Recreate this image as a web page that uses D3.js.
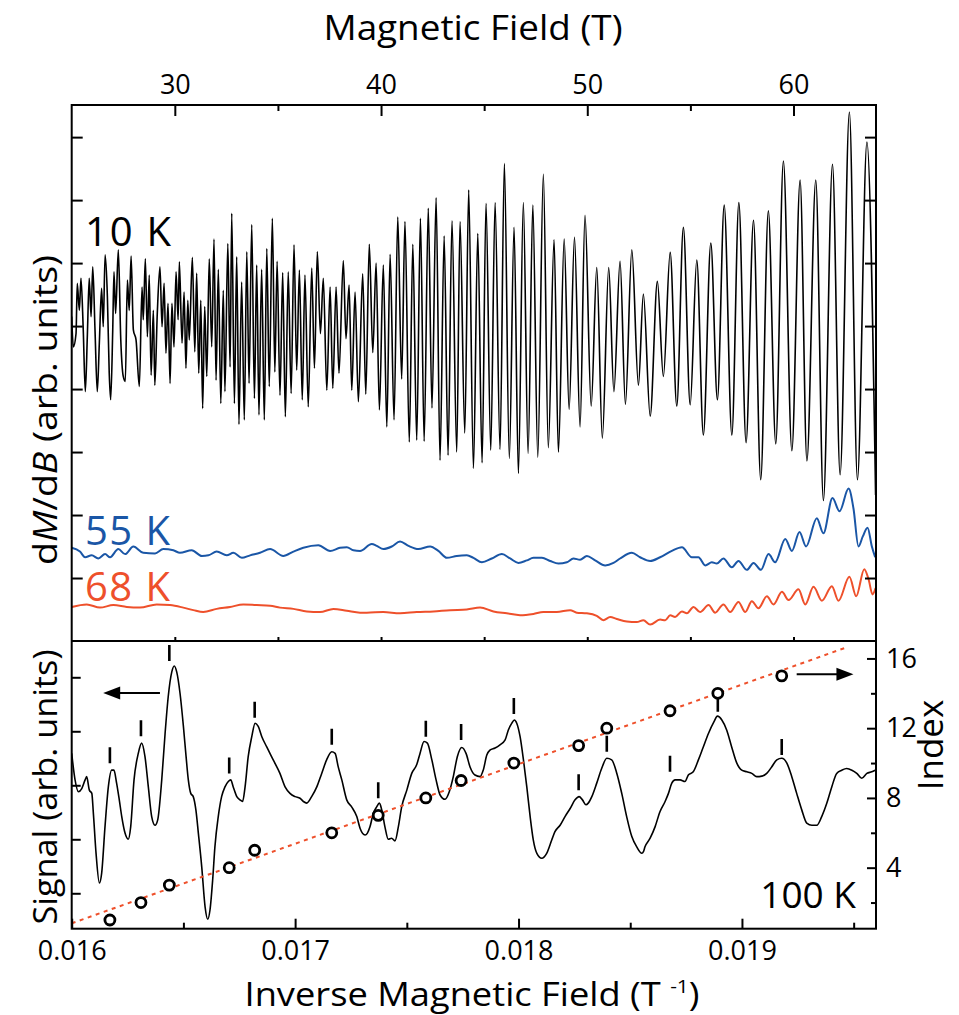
<!DOCTYPE html>
<html><head><meta charset="utf-8">
<script src="https://cdn.jsdelivr.net/npm/d3@7"></script>
<style>
html,body{margin:0;padding:0;background:#fff;}
svg{display:block;}
text{font-family:"Open Sans","Noto Sans",sans-serif;fill:#000;}
</style></head><body>
<svg id="chart" width="959" height="1015"></svg>
<script>
// ---- axis ticks ----
const fieldMajor = [30, 40, 50, 60];
const fieldMinor = [35, 45, 55];
const invMajor = [0.016, 0.017, 0.018, 0.019];
const invMinor = [0.0165, 0.0175, 0.0185, 0.0195];
const upperTicks = [1, 2, 3, 4, 5, 6, 7, 8];
const signalTicks = [0, 1, 2, 3, 4];
const indexMajor = [4, 8, 12, 16];
const indexMinor = [2, 6, 10, 14];

// ---- dM/dB vs field (T, arb. units) ----
const trace10K = [[25.00,5.15],[25.08,4.67],[25.21,4.88],[25.27,5.68],[25.37,5.25],[25.45,5.76],[25.56,4.94],[25.66,3.96],[25.76,4.86],[25.85,5.76],[25.94,5.15],[26.02,5.94],[26.13,4.94],[26.24,3.96],[26.34,4.73],[26.45,5.60],[26.53,4.99],[26.62,6.13],[26.73,5.47],[26.82,4.25],[26.89,3.83],[26.99,4.94],[27.05,5.86],[27.13,5.20],[27.26,6.21],[27.38,4.78],[27.50,4.20],[27.60,4.12],[27.70,5.73],[27.79,5.25],[27.88,6.11],[27.99,4.94],[28.12,4.78],[28.28,4.04],[28.41,5.62],[28.47,5.10],[28.57,6.07],[28.67,4.83],[28.76,5.81],[28.85,4.22],[28.96,5.25],[29.03,4.06],[29.15,5.20],[29.28,5.94],[29.38,4.99],[29.48,5.68],[29.57,4.57],[29.67,5.36],[29.77,4.09],[29.86,5.36],[29.96,4.67],[30.06,5.86],[30.16,5.10],[30.22,6.02],[30.35,4.73],[30.45,5.54],[30.54,4.33],[30.63,5.41],[30.70,4.78],[30.85,6.09],[30.97,4.59],[31.06,5.84],[31.16,4.25],[31.26,5.41],[31.35,3.69],[31.45,5.31],[31.55,4.20],[31.67,6.07],[31.79,4.67],[31.90,6.38],[32.00,4.14],
[32.11,5.90],[32.23,3.77],[32.35,5.57],[32.43,3.96],[32.57,6.31],[32.68,4.35],[32.76,6.79],[32.89,3.77],[33.00,6.10],[33.11,3.44],[33.24,5.70],[33.37,3.51],[33.49,6.18],[33.60,4.09],[33.73,6.61],[33.86,3.85],[33.97,5.97],[34.08,3.59],[34.21,5.90],[34.34,3.51],[34.46,6.23],[34.58,4.04],[34.73,6.71],[34.85,4.27],[34.96,6.03],[35.10,3.90],[35.23,5.85],[35.36,3.56],[35.50,5.86],[35.64,3.93],[35.78,6.29],[35.91,4.30],[36.04,5.89],[36.18,3.83],[36.31,5.81],[36.47,3.72],[36.64,5.92],[36.77,4.33],[36.91,6.18],[37.06,4.88],[37.20,5.76],[37.37,3.98],[37.53,5.62],[37.66,4.01],[37.82,5.62],[37.96,4.25],[38.17,6.04],[38.30,4.80],[38.45,5.65],[38.58,3.98],[38.74,5.54],[38.90,3.80],
[39.11,5.83],[39.26,3.92],[39.43,6.30],[39.60,4.58],[39.76,6.00],[39.92,3.67],[40.11,5.97],[40.28,3.40],[40.44,6.14],[40.63,3.51],[40.81,6.73],[41.00,4.16],[41.16,6.66],[41.37,3.16],[41.54,6.30],[41.73,3.19],[41.91,6.71],[42.09,3.17],[42.29,6.87],[42.47,3.70],[42.67,7.04],[42.86,2.87],[43.06,6.43],[43.25,2.95],[43.44,6.67],[43.67,3.00],[43.83,6.66],[44.06,3.30],[44.25,7.16],[44.48,2.74],[44.69,6.47],[44.90,2.83],[45.09,6.95],[45.32,3.03],[45.53,6.96],[45.77,3.04],[45.98,7.58],
[46.22,2.90],[46.45,6.57],[46.66,2.66],[46.90,6.96],[47.13,2.98],[47.36,6.92],[47.60,2.92],[47.87,7.41],[48.11,3.07],[48.39,6.37],[48.60,3.00],[48.88,6.38],[49.12,3.68],[49.38,6.41],[49.65,3.40],[49.89,6.76],[50.19,3.73],[50.46,5.93],[50.73,3.22],[51.04,5.93],[51.29,3.96],[51.59,6.03],[51.85,3.76],[52.16,6.21],[52.48,4.06],[52.72,5.51],[53.05,3.57],[53.40,5.71],[53.69,4.20],[54.02,6.17],[54.34,3.73],[54.66,6.57],[54.99,3.75],[55.31,6.05],[55.63,3.27],[55.99,6.32],[56.31,3.83],[56.64,6.92],[57.01,3.27],[57.35,6.96],[57.70,3.15],[58.06,6.68],[58.41,2.56],[58.78,6.83],[59.14,3.13],[59.51,7.62],[59.92,3.02],[60.32,7.32],[60.65,2.86],[61.08,7.32],[61.45,2.23],[61.89,7.57],[62.26,2.64],[62.71,8.40],[63.10,2.56],[63.56,7.92],[63.98,2.32]];

const trace55K = [[25.00,1.48],[25.40,1.42],[25.65,1.33],[25.97,1.36],[26.29,1.31],[26.62,1.38],[26.86,1.33],[27.26,1.46],[27.59,1.38],[27.99,1.50],[28.47,1.40],[29.04,1.39],[29.44,1.46],[29.93,1.44],[30.25,1.40],[30.82,1.44],[31.31,1.35],[31.63,1.36],[32.03,1.42],[32.52,1.36],[32.84,1.40],[33.25,1.32],[33.65,1.36],[34.13,1.40],[34.62,1.46],[35.26,1.35],[35.75,1.42],[36.23,1.48],[36.96,1.52],[37.53,1.43],[38.01,1.48],[38.34,1.49],[38.66,1.44],[38.98,1.43],[39.55,1.54],[39.79,1.51],[40.11,1.46],[40.52,1.50],[40.92,1.58],[41.33,1.51],[41.81,1.46],[42.38,1.50],[42.78,1.43],[43.19,1.32],[43.67,1.35],[44.16,1.36],[44.48,1.32],[44.89,1.25],[45.37,1.31],[45.86,1.38],[46.26,1.31],[46.66,1.24],[47.07,1.28],[47.39,1.32],[47.80,1.32],[48.20,1.27],[48.60,1.23],[49.01,1.25],[49.33,1.31],[49.65,1.29],[49.98,1.35],[50.38,1.28],[50.87,1.20],[51.27,1.24],[51.59,1.31],[52.16,1.40],[52.56,1.33],[53.05,1.27],[53.53,1.33],[54.10,1.43],[54.59,1.49],[55.07,1.33],[55.39,1.33],[55.72,1.20],[56.04,1.25],[56.28,1.23],[56.60,1.31],[57.01,1.17],[57.33,1.27],[57.74,1.13],[58.06,1.24],[58.42,1.13],[58.79,1.38],[59.11,1.25],[59.60,1.62],[59.92,1.43],[60.29,1.73],[60.61,1.50],[61.13,1.95],[61.45,1.71],[61.89,2.27],[62.23,2.06],[62.67,2.42],[62.91,2.10],[63.15,1.50],[63.36,1.66],[63.59,1.80],[63.80,1.50],[63.96,1.33]];

const trace68K = [[25.00,0.54],[25.73,0.58],[26.37,0.53],[27.02,0.57],[27.67,0.54],[28.31,0.53],[29.12,0.58],[29.77,0.57],[30.41,0.53],[30.90,0.49],[31.38,0.46],[32.03,0.51],[32.68,0.54],[33.32,0.58],[33.97,0.57],[34.62,0.56],[35.10,0.53],[35.75,0.51],[36.40,0.47],[37.04,0.46],[37.69,0.51],[38.34,0.48],[38.98,0.45],[39.31,0.45],[40.11,0.46],[40.92,0.44],[41.73,0.46],[42.54,0.47],[43.35,0.49],[44.16,0.50],[44.80,0.53],[45.45,0.47],[46.10,0.44],[46.74,0.41],[47.39,0.43],[47.87,0.46],[48.52,0.46],[49.17,0.49],[49.49,0.45],[49.98,0.44],[50.46,0.40],[50.78,0.33],[51.11,0.38],[51.43,0.35],[51.92,0.31],[52.40,0.30],[52.72,0.33],[53.05,0.26],[53.53,0.34],[53.78,0.33],[54.02,0.41],[54.26,0.38],[54.59,0.47],[54.83,0.44],[55.15,0.54],[55.47,0.46],[55.88,0.57],[56.20,0.45],[56.60,0.58],[56.93,0.46],[57.33,0.62],[57.66,0.46],[57.98,0.63],[58.30,0.52],[58.71,0.71],[59.03,0.58],[59.44,0.78],[59.76,0.65],[60.24,0.82],[60.57,0.58],[60.97,0.86],[61.38,0.64],[61.86,0.87],[62.18,0.64],[62.71,1.02],[63.04,0.71],[63.43,1.14],[63.64,0.98],[63.83,0.74],[63.98,0.84]];

// ---- 100 K signal vs inverse field (1/T, arb. units) ----
const signal100K = [[0.016000,2.59],[0.016015,2.10],[0.016030,1.88],[0.016045,1.94],[0.016060,2.10],[0.016067,2.16],[0.016079,1.91],[0.016090,1.85],[0.016097,1.48],[0.016109,0.74],[0.016124,0.19],[0.016134,0.37],[0.016149,1.23],[0.016164,1.97],[0.016179,2.28],[0.016189,2.28],[0.016201,2.04],[0.016213,1.73],[0.016224,1.42],[0.016239,1.11],[0.016253,1.00],[0.016264,1.23],[0.016279,2.10],[0.016298,2.59],[0.016313,2.78],[0.016328,2.53],[0.016343,1.97],[0.016358,1.42],[0.016373,1.26],[0.016385,1.36],[0.016403,2.10],[0.016418,2.96],[0.016432,3.64],[0.016448,4.10],[0.016459,4.21],[0.016470,4.10],[0.016485,3.70],[0.016500,3.09],[0.016512,2.53],[0.016522,2.10],[0.016533,1.85],[0.016544,1.79],[0.016556,1.54],[0.016567,1.11],[0.016582,0.49],[0.016597,-0.25],[0.016609,-0.48],[0.016619,-0.31],[0.016631,0.25],[0.016641,0.86],[0.016656,1.42],[0.016671,1.79],[0.016686,1.97],[0.016701,2.07],[0.016712,2.10],[0.016723,1.97],[0.016739,1.79],[0.016753,1.73],[0.016765,1.70],[0.016776,1.97],[0.016790,2.53],[0.016806,2.90],[0.016821,3.15],[0.016835,3.09],[0.016851,2.90],[0.016873,2.71],[0.016902,2.47],[0.016932,2.22],[0.016955,1.97],[0.016977,1.85],[0.017000,1.79],[0.017022,1.76],[0.017037,1.70],[0.017052,1.67],[0.017074,1.79],[0.017097,1.97],[0.017119,2.22],[0.017141,2.47],[0.017164,2.62],[0.017179,2.59],[0.017193,2.34],[0.017209,2.10],[0.017231,1.73],[0.017253,1.60],[0.017276,1.42],[0.017291,1.20],[0.017313,1.08],[0.017323,1.11],[0.017335,1.23],[0.017350,1.48],[0.017365,1.60],[0.017377,1.67],[0.017388,1.54],[0.017402,1.23],[0.017417,1.00],[0.017432,1.02],[0.017447,0.97],[0.017462,1.23],[0.017477,1.60],[0.017500,1.91],[0.017522,2.22],[0.017544,2.38],[0.017559,2.59],[0.017577,2.81],[0.017592,2.78],[0.017612,2.47],[0.017631,2.10],[0.017649,1.82],[0.017671,1.74],[0.017690,1.88],[0.017708,2.16],[0.017726,2.53],[0.017746,2.70],[0.017765,2.59],[0.017783,2.34],[0.017805,2.19],[0.017828,2.16],[0.017842,2.28],[0.017858,2.56],[0.017872,2.65],[0.017895,2.69],[0.017917,2.75],[0.017940,2.84],[0.017954,3.02],[0.017970,3.15],[0.017981,3.21],[0.017992,3.15],[0.018007,2.90],[0.018022,2.47],[0.018037,1.97],[0.018052,1.42],[0.018066,0.99],[0.018082,0.74],[0.018104,0.65],[0.018126,0.74],[0.018149,0.99],[0.018163,1.14],[0.018186,1.26],[0.018208,1.42],[0.018231,1.57],[0.018253,1.73],[0.018271,1.79],[0.018286,1.73],[0.018302,1.64],[0.018312,1.67],[0.018328,1.79],[0.018350,2.04],[0.018372,2.31],[0.018395,2.50],[0.018417,2.47],[0.018440,2.22],[0.018462,1.85],[0.018484,1.42],[0.018507,1.05],[0.018529,0.86],[0.018552,0.74],[0.018559,0.77],[0.018566,0.86],[0.018589,1.02],[0.018611,1.23],[0.018633,1.51],[0.018656,1.70],[0.018671,1.85],[0.018686,2.04],[0.018701,2.10],[0.018723,2.10],[0.018745,2.07],[0.018760,2.19],[0.018782,2.25],[0.018805,2.47],[0.018827,2.71],[0.018850,2.96],[0.018875,3.18],[0.018890,3.28],[0.018910,3.21],[0.018932,3.02],[0.018954,2.71],[0.018977,2.41],[0.018999,2.28],[0.019022,2.25],[0.019044,2.22],[0.019066,2.16],[0.019089,2.17],[0.019111,2.22],[0.019133,2.34],[0.019156,2.47],[0.019178,2.50],[0.019201,2.41],[0.019223,2.16],[0.019245,1.85],[0.019268,1.54],[0.019290,1.30],[0.019313,1.26],[0.019335,1.26],[0.019357,1.42],[0.019380,1.67],[0.019402,1.97],[0.019424,2.22],[0.019447,2.28],[0.019469,2.31],[0.019492,2.28],[0.019514,2.22],[0.019536,2.13],[0.019559,2.22],[0.019581,2.25],[0.019596,2.28]];

// Landau level index of each marked peak (right axis)
const peakInvField = [0.016171,0.016310,0.016437,0.016705,0.016819,0.017164,0.017372,0.017585,0.017743,0.017979,0.018269,0.018395,0.018678,0.018892,0.019178];
const peakIndex = [1,2,3,4,5,6,7,8,9,10,11,12,13,14,15];
// signal level just above each marked peak
const peakMarkLevel = [2.41,2.91,4.30,2.22,3.25,2.75,1.76,2.90,2.84,3.32,1.91,2.62,2.25,3.36,2.56];
// linear fit of index vs inverse field
const indexFit = [[0.016, 0.81], [0.019469, 16.64]];

const svg = d3.select('#chart');
const L = 71.7, R = 876, T = 105, M = 641, B = 928.7;
const black = '#000';
const blue = '#1a56a6';
const red = '#ee502b';
const FONT = '"Open Sans","Noto Sans",sans-serif';

const xB = d3.scaleLinear().domain([25, 64]).range([L, R]);
const yUp = d3.scaleLinear().domain([0, 8.51]).range([M, T]);
const xInv = d3.scaleLinear().domain([0.016, 0.0196]).range([L, R]);
const ySig = d3.scaleLinear().domain([-0.656, 4.672]).range([B, M]);
const yIdx = d3.scaleLinear().domain([0.5, 17]).range([B, M]);

const defs = svg.append('defs');
defs.append('clipPath').attr('id', 'clipUp').append('rect')
  .attr('x', L).attr('y', T).attr('width', R - L).attr('height', M - T);
defs.append('clipPath').attr('id', 'clipLo').append('rect')
  .attr('x', L).attr('y', M).attr('width', R - L).attr('height', B - M);

// ---------- upper panel traces ----------
const lineUp = d3.line().x(d => xB(d[0])).y(d => yUp(d[1])).curve(d3.curveMonotoneX);
const gUp = svg.append('g').attr('clip-path', 'url(#clipUp)');
gUp.append('path').datum(trace68K).attr('d', lineUp)
  .attr('fill', 'none').attr('stroke', red).attr('stroke-width', 2);
gUp.append('path').datum(trace55K).attr('d', lineUp)
  .attr('fill', 'none').attr('stroke', blue).attr('stroke-width', 2);
gUp.append('path').datum(trace10K).attr('d', lineUp)
  .attr('fill', 'none').attr('stroke', black).attr('stroke-width', 1.6);

// ---------- lower panel ----------
const gLo = svg.append('g').attr('clip-path', 'url(#clipLo)');
const lineSig = d3.line().x(d => xInv(d[0])).y(d => ySig(d[1])).curve(d3.curveMonotoneX);
gLo.append('path').datum(signal100K).attr('d', lineSig)
  .attr('fill', 'none').attr('stroke', black).attr('stroke-width', 1.6);

const lineFit = d3.line().x(d => xInv(d[0])).y(d => yIdx(d[1]));
gLo.append('path').datum(indexFit).attr('d', lineFit)
  .attr('fill', 'none').attr('stroke', red).attr('stroke-width', 2)
  .attr('stroke-dasharray', '4,4.5');

// peak markers
gLo.selectAll('line.mark').data(peakInvField).join('line').attr('class', 'mark')
  .attr('x1', d => xInv(d)).attr('x2', d => xInv(d))
  .attr('y1', (d, i) => ySig(peakMarkLevel[i]))
  .attr('y2', (d, i) => ySig(peakMarkLevel[i]) - 16)
  .attr('stroke', black).attr('stroke-width', 2.6);

// index circles
gLo.selectAll('circle.idx').data(peakInvField).join('circle').attr('class', 'idx')
  .attr('cx', d => xInv(d)).attr('cy', (d, i) => yIdx(peakIndex[i]))
  .attr('r', 5).attr('fill', '#fff').attr('stroke', black).attr('stroke-width', 2.8);

// arrows pointing to the relevant axis
function arrow(x0, x1, y, dir) {
  const xa = dir < 0 ? x0 : x1, xb = dir < 0 ? x1 : x0;
  const head = 17, half = 6.5;
  svg.append('line').attr('x1', xa - dir * head * 0.8).attr('x2', xb).attr('y1', y).attr('y2', y)
    .attr('stroke', black).attr('stroke-width', 2);
  svg.append('path')
    .attr('d', `M${xa},${y} L${xa - dir * head},${y - half} L${xa - dir * head},${y + half} Z`)
    .attr('fill', black);
}
arrow(xInv(0.016141), xInv(0.016395), ySig(3.71), -1);
arrow(xInv(0.019245), xInv(0.019499), yIdx(15.09), 1);

// ---------- axes ----------
function styleAxis(g, fs) {
  g.select('.domain').remove();
  g.selectAll('.tick line').attr('stroke', black).attr('stroke-width', 2);
  g.attr('font-family', FONT).attr('font-size', fs);
  g.selectAll('.tick text').attr('fill', black);
}
// field axis (top)
svg.append('g').attr('transform', `translate(0,${T})`)
  .call(d3.axisTop(xB).tickValues(fieldMajor).tickSize(-11).tickPadding(11).tickFormat(d3.format('d')))
  .call(g => styleAxis(g, 27));
svg.append('g').attr('transform', `translate(0,${T})`)
  .call(d3.axisTop(xB).tickValues(fieldMinor).tickSize(-6).tickFormat(''))
  .call(g => styleAxis(g, 27));
// field ticks along the panel divider
svg.append('g').attr('transform', `translate(0,${M})`)
  .call(d3.axisBottom(xB).tickValues(fieldMajor.concat(fieldMinor)).tickSize(-4).tickFormat(''))
  .call(g => styleAxis(g, 27));
// upper panel vertical ticks
svg.append('g').attr('transform', `translate(${L},0)`)
  .call(d3.axisLeft(yUp).tickValues(upperTicks).tickSize(-11).tickFormat(''))
  .call(g => styleAxis(g, 27));
svg.append('g').attr('transform', `translate(${R},0)`)
  .call(d3.axisRight(yUp).tickValues(upperTicks).tickSize(-11).tickFormat(''))
  .call(g => styleAxis(g, 27));
// lower panel signal axis (left)
svg.append('g').attr('transform', `translate(${L},0)`)
  .call(d3.axisLeft(ySig).tickValues(signalTicks).tickSize(-9).tickFormat(''))
  .call(g => styleAxis(g, 27));
// index axis (right)
svg.append('g').attr('transform', `translate(${R},0)`)
  .call(d3.axisRight(yIdx).tickValues(indexMajor).tickSize(-9).tickPadding(10).tickFormat(d3.format('d')))
  .call(g => styleAxis(g, 27));
svg.append('g').attr('transform', `translate(${R},0)`)
  .call(d3.axisRight(yIdx).tickValues(indexMinor).tickSize(-5).tickFormat(''))
  .call(g => styleAxis(g, 27));
// inverse field axis (bottom)
svg.append('g').attr('transform', `translate(0,${B})`)
  .call(d3.axisBottom(xInv).tickValues(invMajor).tickSize(-10).tickPadding(12).tickFormat(d3.format('.3f')))
  .call(g => styleAxis(g, 27));
svg.append('g').attr('transform', `translate(0,${B})`)
  .call(d3.axisBottom(xInv).tickValues(invMinor).tickSize(-6).tickFormat(''))
  .call(g => styleAxis(g, 27));

// frame
svg.append('rect').attr('x', L).attr('y', T).attr('width', R - L).attr('height', B - T)
  .attr('fill', 'none').attr('stroke', black).attr('stroke-width', 2);
svg.append('line').attr('x1', L).attr('x2', R).attr('y1', M).attr('y2', M)
  .attr('stroke', black).attr('stroke-width', 2);

// ---------- titles & labels ----------
svg.append('text').attr('x', 473).attr('y', 40).attr('text-anchor', 'middle')
  .attr('font-size', 34).attr('textLength', 299).attr('lengthAdjust', 'spacingAndGlyphs')
  .text('Magnetic Field (T)');

const xt = svg.append('text').attr('x', 472).attr('y', 1006).attr('text-anchor', 'middle')
  .attr('font-size', 33).attr('textLength', 455).attr('lengthAdjust', 'spacingAndGlyphs');
xt.append('tspan').text('Inverse Magnetic Field (T ');
xt.append('tspan').attr('font-size', 19).attr('dy', -13).text('-1');
xt.append('tspan').attr('dy', 13).text(')');

const yt = svg.append('text').attr('transform', 'translate(57,410) rotate(-90)')
  .attr('text-anchor', 'middle').attr('font-size', 32)
  .attr('textLength', 310).attr('lengthAdjust', 'spacingAndGlyphs');
yt.append('tspan').text('d');
yt.append('tspan').attr('font-style', 'italic').text('M');
yt.append('tspan').text('/d');
yt.append('tspan').attr('font-style', 'italic').text('B');
yt.append('tspan').text(' (arb. units)');

svg.append('text').attr('transform', 'translate(57,787) rotate(-90)')
  .attr('text-anchor', 'middle').attr('font-size', 32)
  .attr('textLength', 275).attr('lengthAdjust', 'spacingAndGlyphs').text('Signal (arb. units)');

svg.append('text').attr('transform', 'translate(943,745) rotate(-90)')
  .attr('text-anchor', 'middle').attr('font-size', 35).text('Index');

svg.append('text').attr('x', 85).attr('y', 246).attr('font-size', 40)
  .attr('textLength', 86).attr('lengthAdjust', 'spacing').text('10 K');
svg.append('text').attr('x', 85).attr('y', 545).attr('font-size', 40).style('fill', blue)
  .attr('textLength', 85).attr('lengthAdjust', 'spacing').text('55 K');
svg.append('text').attr('x', 85).attr('y', 601).attr('font-size', 40).style('fill', red)
  .attr('textLength', 85).attr('lengthAdjust', 'spacing').text('68 K');
svg.append('text').attr('x', 856).attr('y', 908).attr('text-anchor', 'end').attr('font-size', 37)
  .text('100 K');
</script></body></html>
